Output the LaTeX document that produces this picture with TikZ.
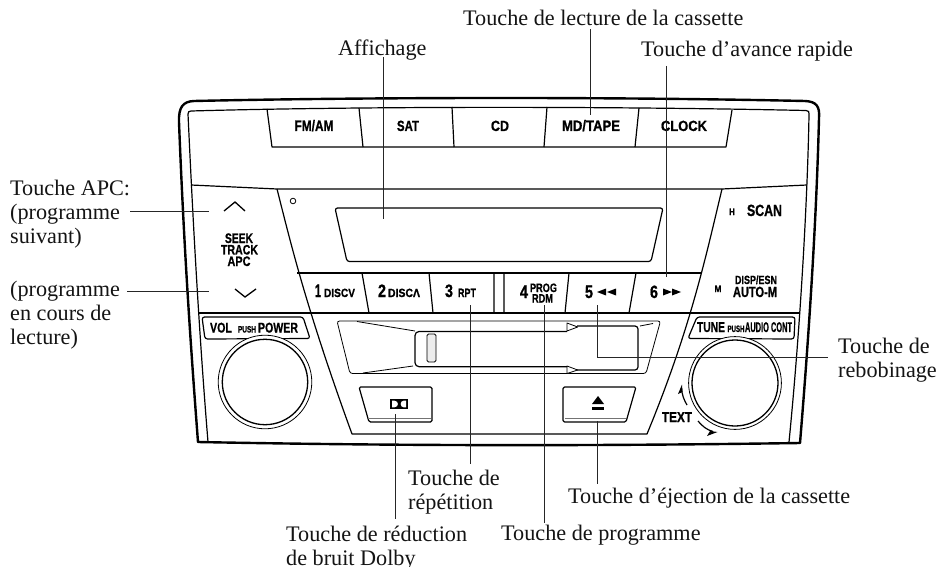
\documentclass[tikz,border=0pt]{standalone}
\usepackage{fontspec}
\usepackage{graphicx}
\setmainfont{Liberation Serif}
\newfontfamily\panelfont{Liberation Sans}[BoldFont={Liberation Sans Bold},BoldFeatures={FakeBold=1}]
\newcommand{\bt}[3]{\resizebox{#1pt}{#2pt}{\panelfont\bfseries #3}}
\tikzset{
  lab/.style={inner sep=0pt, anchor=base west, align=left, text=black!92,
    font=\fontsize{22.2}{24}\selectfont},
  pan/.style={inner sep=0pt, anchor=base},
  lead/.style={line width=0.9pt, draw=black!85},
  frameout/.style={line width=2.4pt, line join=round},
  framein/.style={line width=1.2pt, line join=round},
  thin1/.style={line width=1pt, line join=round},
  thin2/.style={line width=0.8pt, line join=round},
  graybar/.style={line width=0.9pt, draw=black!55},
}
\begin{document}
\begin{tikzpicture}[x=1pt,y=-1pt]
\useasboundingbox (0,0) rectangle (940,567);
\fill[white] (0,0) rectangle (940,567);
% frame
\draw[frameout] (179,122) .. controls (178.5,107) and (183,101.5) .. (194,101)
  .. controls (350,97.5) and (600,96.5) .. (805,101)
  .. controls (816,101.5) and (820,106) .. (819,118)
  .. controls (817,200) and (811,310) .. (800,443)
  .. controls (600,446) and (400,446) .. (198,442)
  .. controls (191,350) and (184,250) .. (179,122) -- cycle;
\draw[framein] (188,114) .. controls (188,112) and (189,111) .. (191,111)
  .. controls (350,106.5) and (600,106) .. (806,110.5)
  .. controls (808.5,110.5) and (809.5,112) .. (809,114)
  .. controls (808,180) and (802,310) .. (789,442);
\draw[framein] (188,114) .. controls (192,200) and (198,320) .. (208,442);
% top buttons
\draw[framein] (267,109) -- (272,147) -- (726,147) -- (732,110);
\draw[framein] (359,108) -- (363,147) (452,107) -- (454,147)
  (547,107) -- (544,147) (639,108) -- (635,147);
% separation
\draw[framein] (191,185) -- (277,189) -- (722,189) -- (807,185);
\draw[framein] (277,189) .. controls (290,240) and (305,305) .. (352,434) -- (647,434)
  .. controls (690,330) and (705,260) .. (722,189);
% button row
\draw[framein] (297,273) -- (702,273);
\draw[framein] (198,313) -- (800,313);
\draw[framein] (362,273) -- (369,313) (429,273) -- (433,313) (494,273) -- (494,313)
  (504,273) -- (504,313) (569,273) -- (565,313) (636,273) -- (629,313);
% display
\draw[framein, rounded corners=2.5pt] (335,208) -- (663,208) -- (651,261.5) -- (347,261.5) -- cycle;
\draw[thin2] (293,201) circle (2.8);
% chevrons
\draw[line width=1.3pt] (224,211) -- (235,202) -- (245,211);
\draw[line width=1.3pt] (235,289) -- (245,297) -- (256,289);
% cassette slot
\draw[thin2, rounded corners=2.5pt] (337,321) -- (660.5,321) -- (646,373.5) -- (350,373.5) -- cycle;
\draw[thin2] (357,321.5) -- (415,331) (363,373) -- (413,366) (640,326) -- (653,323.5);
\draw[framein, rounded corners=4pt] (567,331.5) -- (415,331.5) -- (415,366.7) -- (567,366.7);
\draw[framein, rounded corners=3pt] (577,326) -- (638,326) -- (638,370) -- (577,370);
\draw[thin2, fill=white] (567,323) -- (577.7,327) -- (567,331) -- cycle;
\draw[thin2, fill=white] (567,366) -- (577.7,370) -- (567,373.5) -- cycle;
\draw[thin2, fill=black!7, rounded corners=1.5pt] (427,334) rectangle (436,362);
% dolby and eject buttons
\draw[framein, rounded corners=1.5pt] (359,387) -- (432,387) -- (432,422) -- (369,422) -- cycle;
\draw[graybar] (368,418.5) -- (431,418.5);
\fill (390,399) rectangle (408,409);
\fill[white] (392,400.7) -- (394.5,400.7) .. controls (399,400.7) and (399,407.3) .. (394.5,407.3) -- (392,407.3) -- cycle;
\fill[white] (406,400.7) -- (403.5,400.7) .. controls (399.8,400.7) and (399.8,407.3) .. (403.5,407.3) -- (406,407.3) -- cycle;
\draw[framein, rounded corners=1.5pt] (563,387) -- (636,387) -- (626,422) -- (563,422) -- cycle;
\draw[graybar] (565,418.5) -- (626,418.5);
\fill (592,404) -- (604,404) -- (598,396) -- cycle;
\fill (592,407) rectangle (604,409.5);
% knob boxes and knobs
\draw[framein, rounded corners=2.5pt] (202,317) -- (303,317) -- (310,338.5) -- (205,339) -- cycle;
\draw[framein, rounded corners=2.5pt] (697,317) -- (795,317) -- (794,339) -- (688,338.5) -- cycle;
\draw[thin2, fill=white] (265,382) circle (46.8);
\draw[line width=1.3pt] (265,382) circle (42.7);
\draw[thin2, fill=white] (735,383) circle (46.4);
\draw[line width=1.3pt] (735,383) circle (43);
% turning arrows
\draw[framein] (687,405) .. controls (684,400) and (682,395) .. (681.5,388);
\fill (682,384.5) -- (678,394) -- (682.5,392) -- cycle;
\draw[framein] (698,421) .. controls (702,426) and (707,430) .. (713,431.5);
\fill (717.5,432) -- (707,436) -- (710,431) -- cycle;
% panel text
\node[pan] (fmam) at (314,131) {\bt{39}{11}{FM/AM}};
\node[pan] (sat) at (408,131) {\bt{22}{10.3}{SAT}};
\node[pan] (cd) at (500,131) {\bt{18}{10.3}{CD}};
\node[pan] (mdtape) at (591,131) {\bt{58}{11}{MD/TAPE}};
\node[pan] (clock) at (684,131) {\bt{46}{10.3}{CLOCK}};
\node[pan] (seek) at (239,243) {\bt{28}{9.6}{SEEK}};
\node[pan] (track) at (239.5,254.5) {\bt{37}{9.6}{TRACK}};
\node[pan] (apctxt) at (239,266) {\bt{23}{9.6}{APC}};
\node[pan] (n1) at (318,297) {\bt{6}{12.5}{1}};
\node[pan] (disc1) at (339.5,297) {\bt{31}{8.3}{DISCV}};
\node[pan] (n2) at (382,297) {\bt{8}{12.5}{2}};
\node[pan] (disc2) at (404,297) {\bt{32}{8.3}{DISCΛ}};
\node[pan] (n3) at (449,297) {\bt{8}{12.5}{3}};
\node[pan] (rpt) at (467,297) {\bt{18}{8.3}{RPT}};
\node[pan] (n4) at (524,298) {\bt{8}{12.5}{4}};
\node[pan] (prog) at (543.5,292) {\bt{27}{8.5}{PROG}};
\node[pan] (rdm) at (542.5,302.5) {\bt{21}{8.3}{RDM}};
\node[pan] (n5) at (589,298) {\bt{8}{12.5}{5}};
\node[pan] (n6) at (654,298) {\bt{8}{12.5}{6}};
\fill (597,292) -- (606,288.5) -- (606,295.5) -- cycle (607,292) -- (616,288.5) -- (616,295.5) -- cycle;
\fill (663,288.5) -- (672,292) -- (663,295.5) -- cycle (672,288.5) -- (681,292) -- (672,295.5) -- cycle;
\node[pan] (hh) at (732,215) {\bt{6}{6.5}{H}};
\node[pan] (scan) at (764.5,216) {\bt{35}{11.3}{SCAN}};
\node[pan] (mm) at (718,292) {\bt{7}{6.5}{M}};
\node[pan] (disp) at (756,284) {\bt{42}{8.6}{DISP/ESN}};
\node[pan] (auto) at (755,297) {\bt{44}{10.3}{AUTO-M}};
\node[pan] (vol) at (221,332.5) {\bt{22}{9.8}{VOL}};
\node[pan] (push1) at (247,332.5) {\bt{18}{6.5}{PUSH}};
\node[pan] (power) at (278,332.5) {\bt{40}{9.8}{POWER}};
\node[pan] (tune) at (711,332) {\bt{28}{9.8}{TUNE}};
\node[pan] (push2) at (736,332) {\bt{17}{6.5}{PUSH}};
\node[pan] (audio) at (768.5,332) {\bt{47}{9.8}{AUDIO CONT}};
\node[pan] (txt) at (677,422) {\bt{30}{9.8}{TEXT}};
% labels
\node[lab] (lecture) at (463,26) {Touche de lecture de la cassette};
\node[lab] (aff) at (338,56) {Affichage};
\node[lab] (avance) at (641,57) {Touche d’avance rapide};
\node[lab] (apc) at (10,243) {Touche APC:\\(programme\\suivant)};
\node[lab] (prg) at (10,344) {(programme\\en cours de\\lecture)};
\node[lab] (rebo) at (838,377) {Touche de\\rebobinage};
\node[lab] (repet) at (408,509) {Touche de\\répétition};
\node[lab] (eject) at (568,503) {Touche d’éjection de la cassette};
\node[lab] (progr) at (501,540) {Touche de programme};
\node[lab] (dolby) at (286,565) {Touche de réduction\\de bruit Dolby};
% leader ends
\coordinate (eaff) at (383,219);
\coordinate (elect) at (590,115);
\coordinate (eav) at (666.5,277);
\coordinate (eapc) at (209,211);
\coordinate (eprg) at (209,291);
\coordinate (erep) at (470,305);
\coordinate (edol) at (395.7,414);
\coordinate (eprog) at (544,305);
\coordinate (eej) at (597,421);
\coordinate (erb) at (597,305);
\coordinate (crb) at (597,357);
% leaders
\draw[lead] ([yshift=4pt]aff.south -| eaff) -- (eaff);
\draw[lead] ([yshift=-3pt]lecture.south -| elect) -- (elect);
\draw[lead] ([yshift=-4pt]avance.south -| eav) -- (eav);
\draw[lead] (apc.east |- eapc) -- (eapc);
\draw[lead] ([xshift=7pt]prg.east |- eprg) -- (eprg);
\draw[lead] (erep) -- ([yshift=5pt]repet.north -| erep);
\draw[lead] (edol) -- ([yshift=6pt]dolby.north -| edol);
\draw[lead] (eprog) -- ([yshift=1pt]progr.north -| eprog);
\draw[lead] (eej) -- ([yshift=3pt]eject.north -| eej);
\draw[lead] (erb) -- (crb) -- ([xshift=-10pt]rebo.west |- crb);
\end{tikzpicture}
\end{document}
